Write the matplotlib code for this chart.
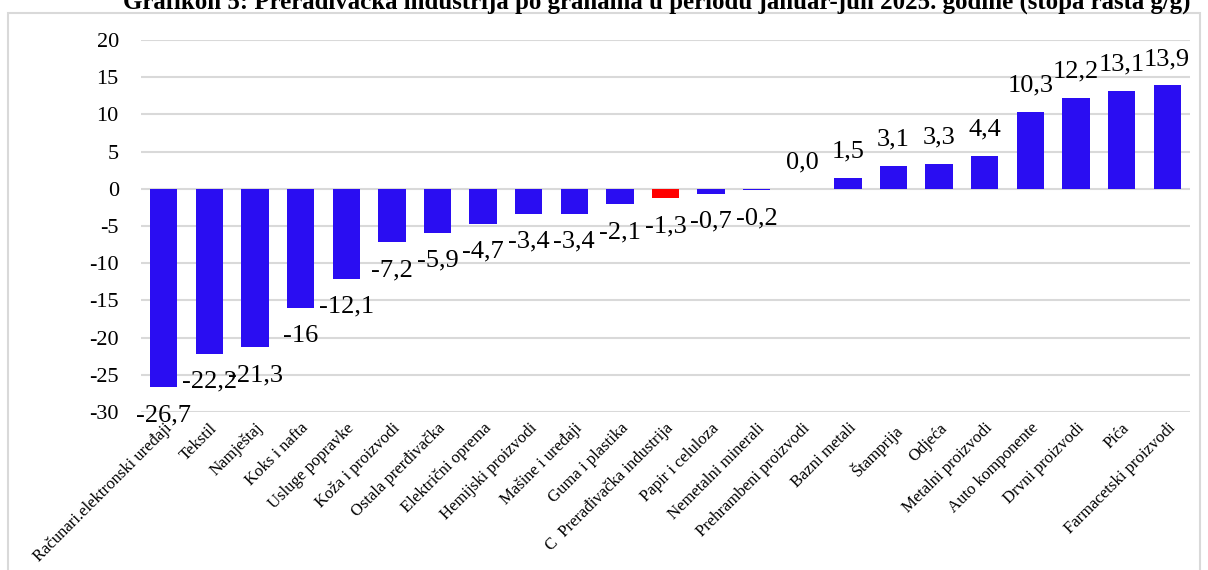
import matplotlib
matplotlib.use("Agg")
import matplotlib.pyplot as plt
from matplotlib.patches import Rectangle

plt.rcParams['font.family'] = ['Liberation Serif', 'DejaVu Serif']

# grane i stope rasta
categories = ["Računari.elektronski uređaji", "Tekstil", "Namještaj", "Koks i nafta",
              "Usluge popravke", "Koža i proizvodi", "Ostala prerđivačka",
              "Električni oprema", "Hemijski proizvodi", "Mašine i uređaji",
              "Guma i plastika", "C  Prerađivačka industrija", "Papir i celuloza",
              "Nemetalni minerali", "Prehrambeni proizvodi", "Bazni metali",
              "Štamprija", "Odjeća", "Metalni proizvodi", "Auto komponente",
              "Drvni proizvodi", "Pića", "Farmacetski proizvodi"]
values = [-26.7, -22.2, -21.3, -16, -12.1, -7.2, -5.9, -4.7, -3.4, -3.4, -2.1,
          -1.3, -0.7, -0.2, 0.0, 1.5, 3.1, 3.3, 4.4, 10.3, 12.2, 13.1, 13.9]
value_labels = ["-26,7", "-22,2", "-21,3", "-16", "-12,1", "-7,2", "-5,9", "-4,7",
                "-3,4", "-3,4", "-2,1", "-1,3", "-0,7", "-0,2", "0,0", "1,5", "3,1",
                "3,3", "4,4", "10,3", "12,2", "13,1", "13,9"]
highlight = "C  Prerađivačka industrija"
yticks = [20, 15, 10, 5, 0, -5, -10, -15, -20, -25, -30]

fig = plt.figure(figsize=(12.08, 5.7), dpi=100)

# okvir grafikona
fig.patches.append(Rectangle((8 / 1208, -0.1), 1192 / 1208, 1.1 - 13 / 570,
                             transform=fig.transFigure, fill=False,
                             edgecolor='#D9D9D9', linewidth=1.5))

fig.text(0.544, 1 - 9 / 570,
         "Grafikon 5: Prerađivačka industrija po granama u periodu januar-jun 2025. godine (stopa rasta g/g)",
         ha='center', va='baseline', fontsize=17.9, fontweight='bold')

ax = fig.add_axes([141 / 1208, 1 - 412 / 570, 1049 / 1208, 372 / 570])

colors = ['#FF0000' if c == highlight else '#2A0DF2' for c in categories]
x = range(len(categories))
ax.bar(x, values, width=0.6, color=colors, zorder=2)

for i, (v, lab) in enumerate(zip(values, value_labels)):
    off = -20 if v < 0 else 19
    ax.annotate(lab, (i, v), xytext=(0, off), textcoords='offset points',
                ha='center', va='center', fontsize=19)

ax.set_xlim(-0.5, len(categories) - 0.5)
ax.set_ylim(-30, 20)
ax.set_yticks(yticks)
ax.set_yticklabels([str(t) for t in yticks], fontsize=16)
ax.grid(axis='y', color='#D9D9D9', linewidth=1.5, zorder=0)
ax.set_axisbelow(True)
ax.tick_params(axis='y', length=0, pad=16)
ax.tick_params(axis='x', length=0, pad=6)
ax.set_xticks(list(x))
ax.set_xticklabels(categories, rotation=45, ha='right', rotation_mode='anchor', fontsize=12)
for s in ax.spines.values():
    s.set_visible(False)

fig.savefig("out.png", dpi=100)
